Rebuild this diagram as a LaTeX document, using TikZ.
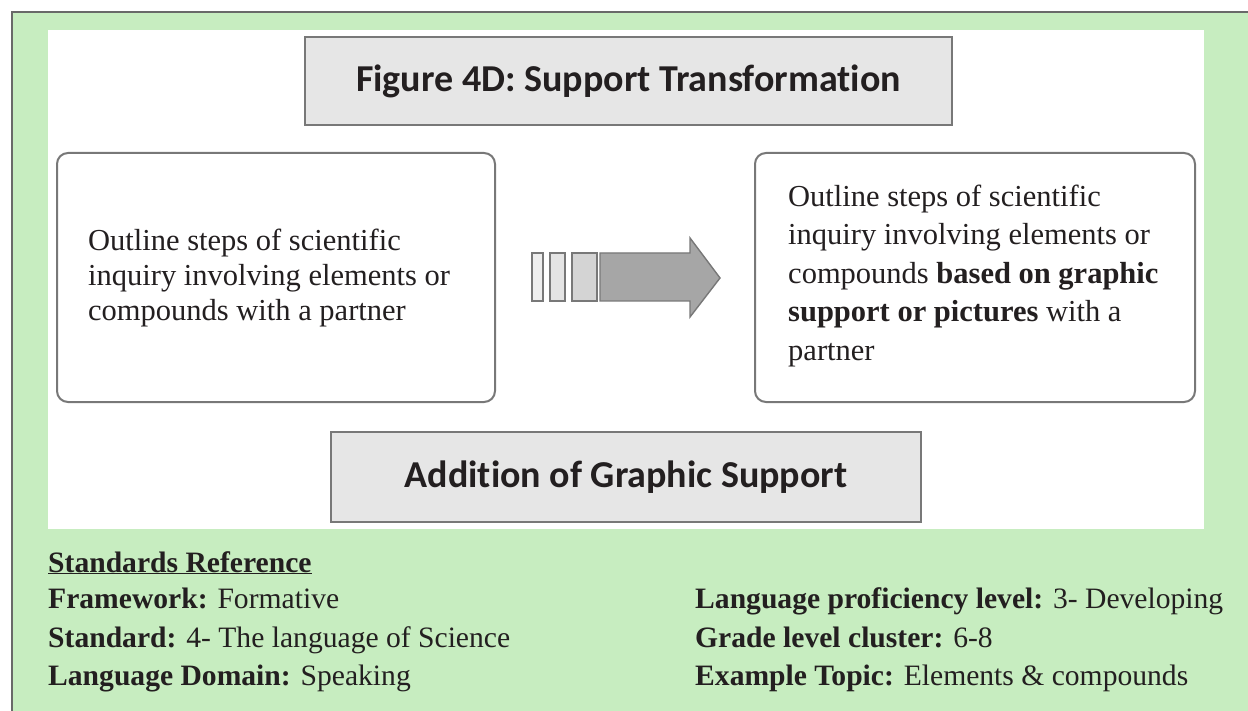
\documentclass[tikz,border=0pt]{standalone}
\usepackage{fontspec}
\setmainfont{Liberation Serif}
\newfontfamily\headfont[Ligatures=NoCommon]{Carlito}
\definecolor{bggreen}{RGB}{199,237,192}
\definecolor{framegray}{RGB}{105,105,105}
\definecolor{boxgray}{RGB}{120,120,120}
\definecolor{titlefill}{RGB}{230,230,230}
\definecolor{barA}{RGB}{238,238,238}
\definecolor{barB}{RGB}{228,228,228}
\definecolor{barC}{RGB}{212,212,212}
\definecolor{arrowfill}{RGB}{166,166,166}
\definecolor{txt}{RGB}{35,31,32}
\tikzset{
  titlebox/.style={draw=boxgray, line width=2pt, fill=titlefill, inner sep=0pt, text=txt,
    font=\headfont\bfseries\fontsize{38}{40}\selectfont},
  roundbox/.style={draw=boxgray, line width=2pt, fill=white, rounded corners=11pt, inner sep=0pt},
  boxtext/.style={anchor=west, align=left, inner sep=0pt, text=txt},
  bar/.style={draw=boxgray, line width=1.4pt, inner sep=0pt, minimum height=48pt},
  reftext/.style={anchor=base west, inner sep=0pt, text=txt, font=\fontsize{29.6}{36}\selectfont}
}
\begin{document}
\begin{tikzpicture}[x=1pt,y=-1pt]
\useasboundingbox (0,0) rectangle (1248,711);
\fill[white] (0,0) rectangle (1248,711);
\fill[bggreen] (12,12) rectangle (1248,711);
\draw[framegray, line width=2.5pt] (12,711) -- (12,12) -- (1248,12);
\fill[white] (48,30) rectangle (1204,529);

\node[titlebox, minimum width=647pt, minimum height=88pt] (title) at (628.5,81) {Figure 4D: Support Transformation};

\node[roundbox, minimum width=438pt, minimum height=249pt] (left) at (276,277.5) {};
\node[roundbox, minimum width=440pt, minimum height=249pt] (right) at (975,277.5) {};

\node[boxtext, font=\fontsize{30.5}{35}\selectfont] (lefttext) at (88,278)
  {Outline steps of scientific\\inquiry involving elements or\\compounds with a partner};
\node[boxtext, font=\fontsize{30.5}{38.5}\selectfont] (righttext) at (788,276)
  {Outline steps of scientific\\inquiry involving elements or\\compounds \textbf{based on graphic}\\\textbf{support or pictures} with a\\partner};

% transition arrow
\node[bar, fill=barA, minimum width=11pt] (b1) at (537.5,277) {};
\node[bar, fill=barB, minimum width=15pt] (b2) at (557.5,277) {};
\node[bar, fill=barC, minimum width=25pt] (b3) at (584.5,277) {};
\draw[boxgray, line width=1.4pt, fill=arrowfill, line join=miter]
  (600,253) -- (690,253) -- (690,238) -- (720,278) -- (690,317) -- (690,301) -- (600,301) -- cycle;

\node[titlebox, minimum width=590pt, minimum height=90pt] (addition) at (626,477) {Addition of Graphic Support};

% standards reference
\node[reftext] (sref) at (48,572) {\textbf{\underline{Standards Reference}}};
\node[reftext] (fw) at (48,608) {\textbf{Framework:} Formative};
\node[reftext] (std) at (48,647) {\textbf{Standard:} 4- The language of Science};
\node[reftext] (dom) at (48,685) {\textbf{Language Domain:} Speaking};
\node[reftext] (lpl) at (695,608) {\textbf{Language proficiency level:} 3- Developing};
\node[reftext] (glc) at (695,647) {\textbf{Grade level cluster:} 6-8};
\node[reftext] (top) at (695,685) {\textbf{Example Topic:} Elements \& compounds};
\end{tikzpicture}
\end{document}
